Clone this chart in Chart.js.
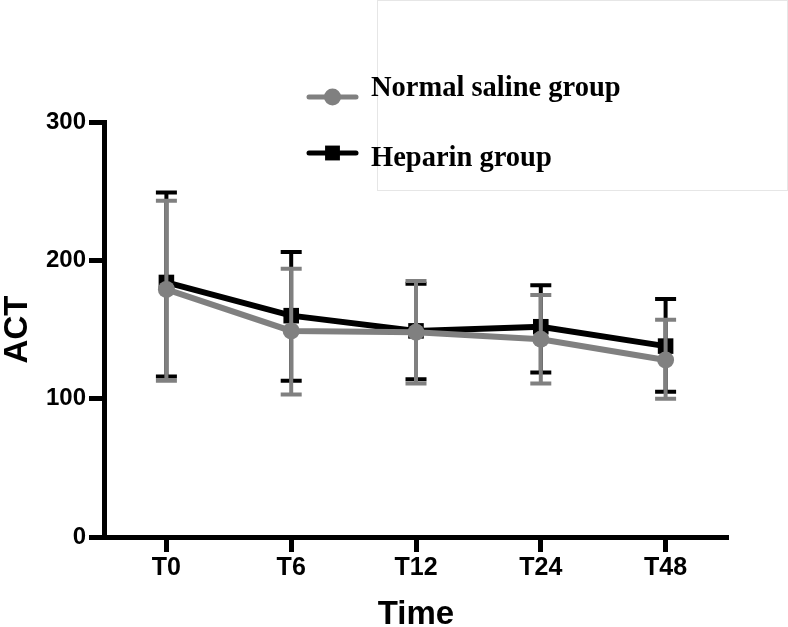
<!DOCTYPE html>
<html>
<head>
<meta charset="utf-8">
<title>ACT over time</title>
<script src="https://cdn.jsdelivr.net/npm/chart.js@4.4.0/dist/chart.umd.min.js"></script>
<style>
    body { margin: 0; background: #fff; }
    #wrap { width: 788px; height: 627px; }
</style>
</head>
<body>
<div id="wrap"><canvas id="actChart" width="788" height="627"></canvas></div>
<script>
// Time points
const timeLabels = ['T0', 'T6', 'T12', 'T24', 'T48'];

// Normal saline group: mean and error bar ends
const salineMean = [179, 149, 148, 143, 128];
const salineHigh = [243, 194, 185, 175, 157];
const salineLow = [113, 103, 111, 111, 100];

// Heparin group: mean and error bar ends
const heparinMean = [184, 160, 149, 152, 138];
const heparinHigh = [249, 206, 183, 182, 172];
const heparinLow = [116, 113, 114, 119, 105];

// Y axis ticks
const yTicks = [0, 100, 200, 300];

const GREY = '#808080';
const BLACK = '#000000';

// Draw the error bars of a dataset right before its line and points
const errorBars = {
    id: 'errorBars',
    beforeDatasetDraw(chart, args) {
        const ds = chart.data.datasets[args.index];
        const yScale = chart.scales.y;
        const ctx = chart.ctx;
        ctx.save();
        ctx.strokeStyle = ds.borderColor;
        ctx.lineWidth = 4;
        args.meta.data.forEach((pt, i) => {
            const top = yScale.getPixelForValue(ds.errHigh[i]);
            const bot = yScale.getPixelForValue(ds.errLow[i]);
            ctx.beginPath();
            ctx.moveTo(pt.x, top);
            ctx.lineTo(pt.x, bot);
            ctx.moveTo(pt.x - 10.5, top);
            ctx.lineTo(pt.x + 10.5, top);
            ctx.moveTo(pt.x - 10.5, bot);
            ctx.lineTo(pt.x + 10.5, bot);
            ctx.stroke();
        });
        ctx.restore();
    }
};

// Legend in the top right, serif bold like the original
const boxLegend = {
    id: 'boxLegend',
    afterDraw(chart) {
        const ctx = chart.ctx;
        ctx.save();
        ctx.strokeStyle = '#e6e6e6';
        ctx.lineWidth = 1;
        ctx.strokeRect(377.5, 0.5, 410, 190);

        const rows = [
            { ds: chart.data.datasets[0], lineY: 97, textY: 96 },
            { ds: chart.data.datasets[1], lineY: 153, textY: 166 }
        ];
        rows.forEach(r => {
            ctx.strokeStyle = r.ds.borderColor;
            ctx.lineWidth = 5;
            ctx.lineCap = 'round';
            ctx.beginPath();
            ctx.moveTo(309, r.lineY);
            ctx.lineTo(356, r.lineY);
            ctx.stroke();
            ctx.fillStyle = r.ds.borderColor;
            Chart.helpers.drawPoint(ctx, {
                pointStyle: r.ds.pointStyle,
                radius: r.ds.pointStyle === 'rect' ? 10.5 : 8.5,
                rotation: 0,
                borderWidth: 0
            }, 332.5, r.lineY);
            ctx.fillStyle = BLACK;
            ctx.font = 'bold 28.5px "Liberation Serif", "Times New Roman", serif';
            ctx.textAlign = 'left';
            ctx.textBaseline = 'alphabetic';
            ctx.fillText(r.ds.label, 371, r.textY);
        });
        ctx.restore();
    }
};

const ctx = document.getElementById('actChart').getContext('2d');
new Chart(ctx, {
    type: 'line',
    data: {
        labels: timeLabels,
        datasets: [
            {
                label: 'Normal saline group',
                data: salineMean,
                errHigh: salineHigh,
                errLow: salineLow,
                borderColor: GREY,
                backgroundColor: GREY,
                borderWidth: 6,
                pointStyle: 'circle',
                pointRadius: 8.5,
                pointBorderWidth: 0,
                tension: 0,
                order: 1
            },
            {
                label: 'Heparin group',
                data: heparinMean,
                errHigh: heparinHigh,
                errLow: heparinLow,
                borderColor: BLACK,
                backgroundColor: BLACK,
                borderWidth: 6,
                pointStyle: 'rect',
                pointRadius: 11,
                pointBorderWidth: 0,
                tension: 0,
                order: 2
            }
        ]
    },
    options: {
        responsive: false,
        animation: false,
        layout: {
            padding: { top: 122, right: 60, left: 0, bottom: 0 }
        },
        plugins: {
            legend: { display: false },
            tooltip: { enabled: false }
        },
        scales: {
            x: {
                offset: true,
                afterFit: scale => { scale.height = 90; },
                border: { color: BLACK, width: 5 },
                grid: {
                    drawOnChartArea: false,
                    drawTicks: true,
                    tickLength: 15,
                    tickWidth: 5,
                    tickColor: BLACK
                },
                ticks: {
                    color: BLACK,
                    padding: 1,
                    font: { family: '"Liberation Sans", Arial, sans-serif', size: 25, weight: 'bold' }
                },
                title: {
                    display: true,
                    text: 'Time',
                    color: BLACK,
                    padding: 0,
                    font: { family: '"Liberation Sans", Arial, sans-serif', size: 33, weight: 'bold', lineHeight: 0.75 }
                }
            },
            y: {
                min: 0,
                max: 300,
                afterFit: scale => { scale.width = 104; },
                afterBuildTicks: scale => { scale.ticks = yTicks.map(v => ({ value: v })); },
                border: { color: BLACK, width: 5 },
                grid: {
                    drawOnChartArea: false,
                    drawTicks: true,
                    tickLength: 15,
                    tickWidth: 5,
                    tickColor: BLACK
                },
                ticks: {
                    color: BLACK,
                    padding: 3,
                    font: { family: '"Liberation Sans", Arial, sans-serif', size: 24, weight: 'bold' }
                },
                title: {
                    display: true,
                    text: 'ACT',
                    color: BLACK,
                    padding: 0,
                    font: { family: '"Liberation Sans", Arial, sans-serif', size: 33, weight: 'bold', lineHeight: 1.1 }
                }
            }
        }
    },
    plugins: [errorBars, boxLegend]
});
</script>
</body>
</html>
